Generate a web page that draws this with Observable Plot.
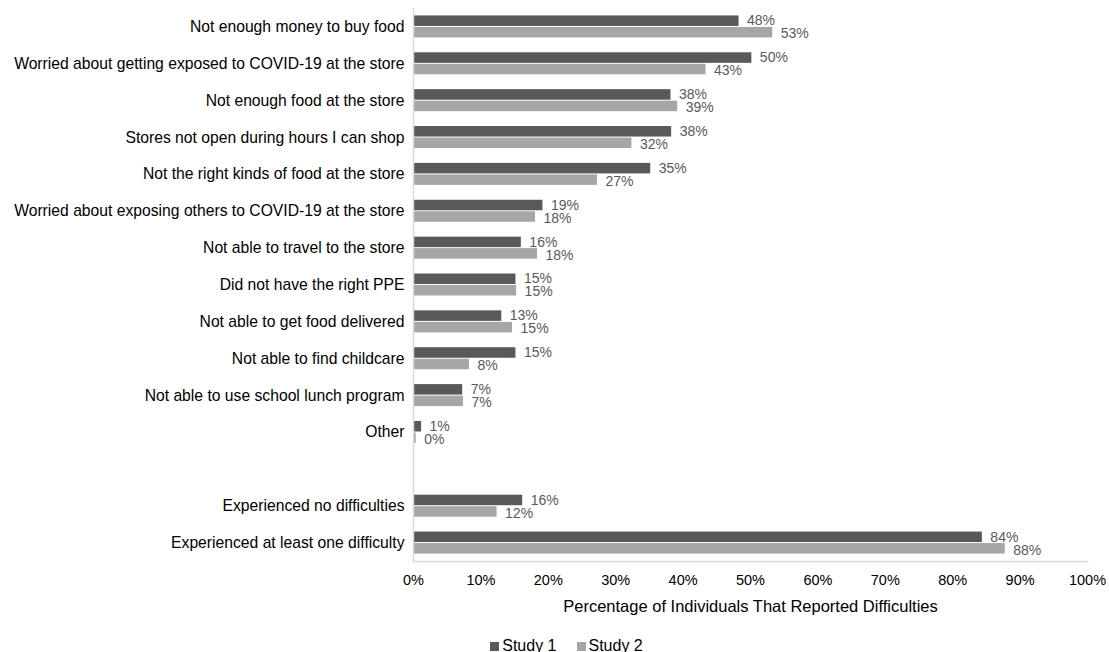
<!DOCTYPE html>
<html>
<head>
<meta charset="utf-8">
<script src="https://cdn.jsdelivr.net/npm/d3@7"></script>
<script src="https://cdn.jsdelivr.net/npm/@observablehq/plot@0.6"></script>
<style>
  html, body { margin: 0; padding: 0; background: #fff; }
  body { position: relative; width: 1109px; height: 652px; overflow: hidden; font-family: "Liberation Sans", Arial, sans-serif; }
  #chart svg { display: block; }
  #legend { position: absolute; left: 0; top: 637px; width: 1109px; box-sizing: border-box; padding-left: 24px;
            display: flex; justify-content: center; gap: 20px; font-size: 16px; line-height: 18px; color: #000; }
  #legend span.item { display: inline-flex; align-items: center; }
  #legend span.sw { display: inline-block; width: 9px; height: 9px; margin-right: 3px; }
</style>
</head>
<body>
<div id="chart"></div>
<div id="legend"></div>
<script>
const categories = [
  "Not enough money to buy food",
  "Worried about getting exposed to COVID-19 at the store",
  "Not enough food at the store",
  "Stores not open during hours I can shop",
  "Not the right kinds of food at the store",
  "Worried about exposing others to COVID-19 at the store",
  "Not able to travel to the store",
  "Did not have the right PPE",
  "Not able to get food delivered",
  "Not able to find childcare",
  "Not able to use school lunch program",
  "Other",
  " ",
  "Experienced no difficulties",
  "Experienced at least one difficulty"
];
const series = ["Study 1", "Study 2"];
const study1 = [48.3, 50.2, 38.2, 38.3, 35.2, 19.2, 16.0, 15.2, 13.1, 15.2, 7.3, 1.2, null, 16.2, 84.4];
const study2 = [53.3, 43.4, 39.2, 32.4, 27.3, 18.1, 18.4, 15.3, 14.7, 8.3, 7.4, 0.4, null, 12.4, 87.8];
const xTicks = [0, 10, 20, 30, 40, 50, 60, 70, 80, 90, 100];
const colors = ["#595959", "#a6a6a6"];
const xLabel = "Percentage of Individuals That Reported Difficulties";

const data = [];
categories.forEach((c, i) => {
  if (study1[i] != null) data.push({category: c, study: series[0], value: study1[i]});
  if (study2[i] != null) data.push({category: c, study: series[1], value: study2[i]});
});
const d1 = data.filter(d => d.study === series[0]);
const d2 = data.filter(d => d.study === series[1]);

const W = 1109, H = 628, mT = 8, mB = H - 561;
const bw = (H - mB - mT) / categories.length;
const half = bw / 2;
const fmt = v => Math.round(v) + "%";

const chart = Plot.plot({
  width: W,
  height: H,
  marginLeft: 413,
  marginRight: 22,
  marginTop: mT,
  marginBottom: mB,
  style: {fontFamily: "'Liberation Sans', Arial, sans-serif", fontSize: "14px", color: "#000", background: "#fff"},
  x: {domain: [0, 100], ticks: xTicks, tickFormat: d => d + "%", label: null},
  y: {domain: categories, padding: 0, round: false, label: null},
  marks: [
    Plot.barX(d1, {x: "value", y: "category", fill: colors[0], insetTop: half - 11, insetBottom: half + 0.5}),
    Plot.barX(d2, {x: "value", y: "category", fill: colors[1], insetTop: half + 0.5, insetBottom: half - 11}),
    Plot.text(d1, {x: "value", y: "category", text: d => fmt(d.value), dy: -6, dx: 8, textAnchor: "start", fill: "#595959", fontSize: 14}),
    Plot.text(d2, {x: "value", y: "category", text: d => fmt(d.value), dy: 7, dx: 8, textAnchor: "start", fill: "#595959", fontSize: 14}),
    Plot.ruleX([0], {stroke: "#d9d9d9", strokeWidth: 1.5}),
    Plot.frame({anchor: "bottom", stroke: "#d9d9d9", strokeWidth: 1.5}),
    Plot.axisY({tickSize: 0, tickPadding: 9, fontSize: 15.7, label: null}),
    Plot.axisX({ticks: xTicks, tickFormat: d => d + "%", tickSize: 0, tickPadding: 13, fontSize: 14.5, label: null}),
    Plot.axisX({ticks: [], tickSize: 0, label: xLabel, labelArrow: "none", labelAnchor: "center", labelOffset: 50, fontSize: 16.5})
  ]
});
document.getElementById("chart").appendChild(chart);

const legend = document.getElementById("legend");
series.forEach((s, i) => {
  const item = document.createElement("span");
  item.className = "item";
  const sw = document.createElement("span");
  sw.className = "sw";
  sw.style.background = colors[i];
  item.appendChild(sw);
  item.appendChild(document.createTextNode(s));
  legend.appendChild(item);
});
</script>
</body>
</html>
